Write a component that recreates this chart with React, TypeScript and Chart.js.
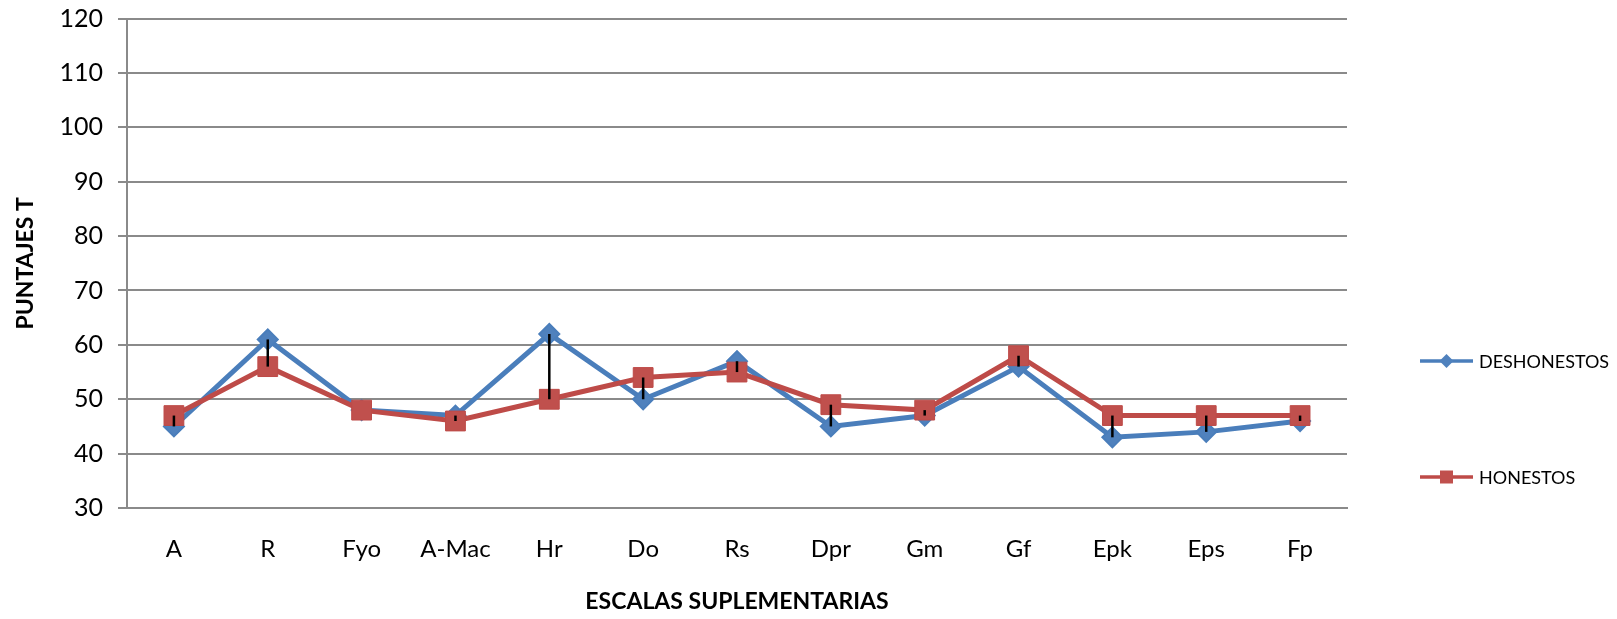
import React, { useEffect, useRef } from "react";
import { Chart, registerables } from "chart.js";

Chart.register(...registerables);

const categories = ["A", "R", "Fyo", "A-Mac", "Hr", "Do", "Rs", "Dpr", "Gm", "Gf", "Epk", "Eps", "Fp"];
const deshonestos = [45, 61, 48, 47, 62, 50, 57, 45, 47, 56, 43, 44, 46];
const honestos = [47, 56, 48, 46, 50, 54, 55, 49, 48, 58, 47, 47, 47];
const seriesNames = ["DESHONESTOS", "HONESTOS"];
const yTitle = "PUNTAJES T";
const xTitle = "ESCALAS SUPLEMENTARIAS";

const BLUE_LINE = "#4A7EBB";
const BLUE_FILL = "#4F81BD";
const RED_LINE = "#BE4B48";
const RED_FILL = "#C0504D";
const GRID = "#8a8a8a";
const FONT = "Lato, 'Open Sans', sans-serif";

const hiLowPlugin = {
  id: "hiLow",
  afterDatasetsDraw(chart: any) {
    const { ctx, scales } = chart;
    const xs = scales.x;
    const ys = scales.y;
    ctx.save();
    ctx.strokeStyle = "#000";
    ctx.lineWidth = 2.5;
    for (let i = 0; i < categories.length; i++) {
      const x = xs.getPixelForValue(i);
      const y1 = ys.getPixelForValue(deshonestos[i]);
      const y2 = ys.getPixelForValue(honestos[i]);
      ctx.beginPath();
      ctx.moveTo(x, y1);
      ctx.lineTo(x, y2);
      ctx.stroke();
    }
    ctx.restore();
  },
};

const legendPlugin = {
  id: "customLegend",
  afterDraw(chart: any) {
    const { ctx } = chart;
    const items = [
      { name: seriesNames[0], line: BLUE_LINE, fill: BLUE_FILL, style: "diamond", y: 361 },
      { name: seriesNames[1], line: RED_LINE, fill: RED_FILL, style: "square", y: 477 },
    ];
    ctx.save();
    for (const it of items) {
      const x0 = 1420;
      const x1 = 1473;
      const cx = (x0 + x1) / 2;
      ctx.strokeStyle = it.line;
      ctx.lineWidth = 3.5;
      ctx.beginPath();
      ctx.moveTo(x0, it.y);
      ctx.lineTo(x1, it.y);
      ctx.stroke();
      ctx.fillStyle = it.fill;
      ctx.beginPath();
      if (it.style === "diamond") {
        const r = 7;
        ctx.moveTo(cx, it.y - r);
        ctx.lineTo(cx + r, it.y);
        ctx.lineTo(cx, it.y + r);
        ctx.lineTo(cx - r, it.y);
        ctx.closePath();
      } else {
        const h = 6.5;
        ctx.rect(cx - h, it.y - h, 2 * h, 2 * h);
      }
      ctx.fill();
      ctx.fillStyle = "#000";
      ctx.font = `18px ${FONT}`;
      ctx.textAlign = "left";
      ctx.textBaseline = "middle";
      ctx.fillText(it.name, 1479, it.y + 1);
    }
    ctx.restore();
  },
};

export default function App() {
  const ref = useRef<HTMLCanvasElement | null>(null);

  useEffect(() => {
    document.body.style.margin = "0";
    const canvas = ref.current;
    if (!canvas) return;
    const chart = new Chart(canvas, {
      type: "line",
      data: {
        labels: categories,
        datasets: [
          {
            label: seriesNames[0],
            data: deshonestos,
            borderColor: BLUE_LINE,
            backgroundColor: BLUE_FILL,
            borderWidth: 5,
            pointStyle: "rectRot",
            pointRadius: 10,
            pointBorderWidth: 2,
            pointBorderColor: BLUE_LINE,
            pointBackgroundColor: BLUE_FILL,
            tension: 0,
            order: 1,
          },
          {
            label: seriesNames[1],
            data: honestos,
            borderColor: RED_LINE,
            backgroundColor: RED_FILL,
            borderWidth: 5,
            pointStyle: "rect",
            pointRadius: 14,
            pointBorderWidth: 1,
            pointBorderColor: RED_LINE,
            pointBackgroundColor: RED_FILL,
            tension: 0,
            order: 0,
          },
        ],
      },
      options: {
        animation: false,
        responsive: false,
        maintainAspectRatio: false,
        layout: { padding: { left: 0, right: 270, top: 18.6, bottom: 0 } },
        plugins: {
          legend: { display: false },
          tooltip: { enabled: false },
        },
        scales: {
          x: {
            type: "category",
            offset: true,
            grid: { display: false, drawTicks: false },
            border: { display: true, color: GRID, width: 2 },
            ticks: {
              color: "#000",
              font: { family: FONT, size: 24 },
              padding: 27,
              autoSkip: false,
              maxRotation: 0,
              minRotation: 0,
            },
            title: {
              display: true,
              text: xTitle,
              color: "#000",
              font: { family: FONT, size: 23, weight: "bold" },
              padding: { top: 0, bottom: 4 },
            },
            afterFit(scale: any) {
              scale.height = 111;
              scale.paddingLeft = 0;
              scale.paddingRight = 0;
            },
          },
          y: {
            min: 30,
            max: 120,
            ticks: {
              stepSize: 10,
              color: "#000",
              font: { family: FONT, size: 25 },
              padding: 15,
            },
            grid: {
              color: GRID,
              lineWidth: 2,
              tickLength: 9,
              drawTicks: true,
            },
            border: { display: true, color: GRID, width: 2 },
            title: {
              display: true,
              text: yTitle,
              color: "#000",
              font: { family: FONT, size: 23, weight: "bold" },
              padding: { top: 12, bottom: 0 },
            },
            afterFit(scale: any) {
              scale.width = 127;
              scale.paddingTop = 0;
              scale.paddingBottom = 0;
            },
          },
        },
      },
      plugins: [hiLowPlugin, legendPlugin],
    });
    return () => chart.destroy();
  }, []);

  return (
    <div style={{ width: 1617, height: 619, position: "relative" }}>
      <canvas ref={ref} width={1617} height={619} style={{ width: 1617, height: 619, display: "block" }} />
    </div>
  );
}
